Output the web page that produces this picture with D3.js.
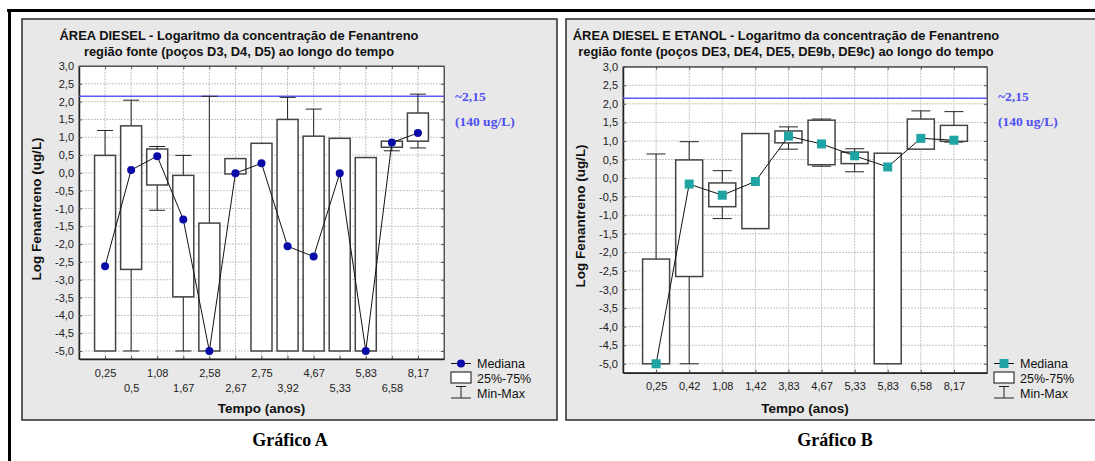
<!DOCTYPE html>
<html>
<head>
<meta charset="utf-8">
<script src="https://cdn.jsdelivr.net/npm/d3@7"></script>
<style>
  html, body { margin: 0; padding: 0; background: #fff; }
  svg { display: block; font-family: "Liberation Sans", Arial, sans-serif; }
</style>
</head>
<body>
<svg id="chart" width="1095" height="461"></svg>
<script>
// ---- Data: Gráfico A (área diesel) ----
const catsA = ["0,25", "0,5", "1,08", "1,67", "2,58", "2,67", "2,75", "3,92", "4,67", "5,33", "5,83", "6,58", "8,17"];
const minA  = [-5.0, -5.0, -1.05, -5.0, -5.0, -0.03, -5.0, -5.0, -5.0, -5.0, -5.0, 0.62, 0.70];
const q1A   = [-5.0, -2.71, -0.34, -3.48, -5.0, -0.03, -5.0, -5.0, -5.0, -5.0, -5.0, 0.72, 0.89];
const medA  = [-2.62, 0.08, 0.47, -1.31, -5.0, -0.01, 0.27, -2.06, -2.35, -0.01, -5.0, 0.85, 1.12];
const q3A   = [0.49, 1.32, 0.67, -0.07, -1.41, 0.40, 0.83, 1.50, 1.03, 0.97, 0.43, 0.89, 1.68];
const maxA  = [1.19, 2.04, 0.74, 0.49, 2.15, 0.40, 0.83, 2.12, 1.79, 0.97, 0.43, 0.89, 2.21];

// ---- Data: Gráfico B (área diesel e etanol) ----
const catsB = ["0,25", "0,42", "1,08", "1,42", "3,83", "4,67", "5,33", "5,83", "6,58", "8,17"];
const minB  = [-5.0, -5.0, -1.09, -1.36, 0.78, 0.32, 0.17, -5.0, 0.78, 0.97];
const q1B   = [-5.0, -2.65, -0.77, -1.36, 0.95, 0.36, 0.39, -5.0, 0.78, 0.99];
const medB  = [-5.0, -0.16, -0.46, -0.09, 1.13, 0.92, 0.60, 0.30, 1.07, 1.02];
const q3B   = [-2.18, 0.49, -0.13, 1.20, 1.27, 1.56, 0.70, 0.67, 1.59, 1.42];
const maxB  = [0.65, 0.98, 0.20, 1.20, 1.38, 1.59, 0.79, 0.67, 1.81, 1.79];

// Shared axis values and reference level
const yTicks = [3.0, 2.5, 2.0, 1.5, 1.0, 0.5, 0.0, -0.5, -1.0, -1.5, -2.0, -2.5, -3.0, -3.5, -4.0, -4.5, -5.0];
const refLevel = 2.15;
const refLabels = ["~2,15", "(140 ug/L)"];
const legendLabels = ["Mediana", "25%-75%", "Min-Max"];

const svg = d3.select("#chart");
const fmt = v => d3.format(".1f")(v).replace(".", ",").replace("−", "-");
const SERIF = "'Liberation Serif', 'Times New Roman', serif";

// Outer frame
svg.append("line").attr("x1", 7).attr("x2", 1095).attr("y1", 10.5).attr("y2", 10.5)
  .attr("stroke", "#000").attr("stroke-width", 3);
svg.append("line").attr("x1", 9.5).attr("x2", 9.5).attr("y1", 9).attr("y2", 461)
  .attr("stroke", "#000").attr("stroke-width", 3);

function drawPanel(cfg) {
  const g = svg.append("g");
  // panel background
  g.append("rect").attr("x", cfg.panel[0]).attr("y", cfg.panel[1])
    .attr("width", cfg.panel[2]).attr("height", cfg.panel[3])
    .attr("fill", "#e8e8e8").attr("stroke", "#2a2a2a").attr("stroke-width", 1.5);

  const x = d3.scalePoint().domain(cfg.cats).range([cfg.left, cfg.right]).padding(1);
  const y = d3.scaleLinear().domain(cfg.yDomain).range([cfg.bottom, cfg.top]);

  // plot area
  g.append("rect").attr("x", cfg.left).attr("y", cfg.top)
    .attr("width", cfg.right - cfg.left).attr("height", cfg.bottom - cfg.top)
    .attr("fill", "#fff");

  // dotted grid
  g.append("g").selectAll("line").data(yTicks).join("line")
    .attr("x1", cfg.left).attr("x2", cfg.right)
    .attr("y1", d => y(d)).attr("y2", d => y(d))
    .attr("stroke", "#c4c4c4").attr("stroke-width", 1).attr("stroke-dasharray", "2,1");
  g.append("g").selectAll("line").data(cfg.cats).join("line")
    .attr("x1", d => x(d)).attr("x2", d => x(d))
    .attr("y1", cfg.top).attr("y2", cfg.bottom)
    .attr("stroke", "#c4c4c4").attr("stroke-width", 1).attr("stroke-dasharray", "2,1");

  // plot frame
  g.append("rect").attr("x", cfg.left).attr("y", cfg.top)
    .attr("width", cfg.right - cfg.left).attr("height", cfg.bottom - cfg.top)
    .attr("fill", "none").attr("stroke", "#555").attr("stroke-width", 1);

  // axes
  const yAxis = g.append("g").attr("transform", `translate(${cfg.left},0)`)
    .call(d3.axisLeft(y).tickValues(yTicks).tickFormat(fmt).tickSizeInner(-3).tickSizeOuter(0).tickPadding(5));
  yAxis.attr("font-family", null);
  yAxis.select(".domain").attr("stroke", "#222").attr("stroke-width", 1.5);
  yAxis.selectAll(".tick line").attr("stroke", "#555");
  yAxis.selectAll("text").attr("font-size", 11).attr("fill", "#222");

  const yAxisR = g.append("g").attr("transform", `translate(${cfg.right},0)`)
    .call(d3.axisRight(y).tickValues(yTicks).tickFormat("").tickSizeInner(-3).tickSizeOuter(0));
  yAxisR.select(".domain").attr("stroke", "#555");
  yAxisR.selectAll(".tick line").attr("stroke", "#555");

  const xAxisT = g.append("g").attr("transform", `translate(0,${cfg.top})`)
    .call(d3.axisTop(x).tickFormat("").tickSizeInner(-3).tickSizeOuter(0));
  xAxisT.select(".domain").attr("stroke", "#555");
  xAxisT.selectAll(".tick line").attr("stroke", "#555");

  const xAxis = g.append("g").attr("transform", `translate(0,${cfg.bottom})`)
    .call(d3.axisBottom(x).tickSizeInner(-3).tickSizeOuter(0).tickPadding(10));
  xAxis.attr("font-family", null);
  xAxis.select(".domain").attr("stroke", "#222").attr("stroke-width", 1.5);
  xAxis.selectAll(".tick line").attr("stroke", "#555");
  xAxis.selectAll("text").attr("font-size", 11).attr("fill", "#222")
    .attr("dy", (d, i) => cfg.stagger && i % 2 === 1 ? "2.1em" : "0.71em");

  // reference level
  g.append("line").attr("x1", cfg.left).attr("x2", cfg.right)
    .attr("y1", y(refLevel)).attr("y2", y(refLevel))
    .attr("stroke", "#5a5af5").attr("stroke-width", 1.5);

  // boxes
  const idx = d3.range(cfg.cats.length);
  const bw = cfg.boxWidth, cw = cfg.capWidth;
  const wh = g.append("g").attr("stroke", "#222").attr("stroke-width", 1);
  idx.forEach(i => {
    const cx = x(cfg.cats[i]);
    if (cfg.max[i] > cfg.q3[i]) {
      wh.append("line").attr("x1", cx).attr("x2", cx).attr("y1", y(cfg.max[i])).attr("y2", y(cfg.q3[i]));
      wh.append("line").attr("x1", cx - cw / 2).attr("x2", cx + cw / 2).attr("y1", y(cfg.max[i])).attr("y2", y(cfg.max[i]));
    }
    if (cfg.min[i] < cfg.q1[i]) {
      wh.append("line").attr("x1", cx).attr("x2", cx).attr("y1", y(cfg.q1[i])).attr("y2", y(cfg.min[i]));
      wh.append("line").attr("x1", cx - cw / 2).attr("x2", cx + cw / 2).attr("y1", y(cfg.min[i])).attr("y2", y(cfg.min[i]));
    }
  });
  g.append("g").selectAll("rect").data(idx).join("rect")
    .attr("x", i => x(cfg.cats[i]) - bw / 2)
    .attr("y", i => y(cfg.q3[i]))
    .attr("width", bw)
    .attr("height", i => Math.max(1, y(cfg.q1[i]) - y(cfg.q3[i])))
    .attr("fill", "#fff").attr("stroke", "#444").attr("stroke-width", 1.5);

  // median line + markers
  const line = d3.line().x(i => x(cfg.cats[i])).y(i => y(cfg.med[i]));
  g.append("path").datum(idx).attr("d", line)
    .attr("fill", "none").attr("stroke", "#111").attr("stroke-width", 1);
  const mk = g.append("g").selectAll("g").data(idx).join("g")
    .attr("transform", i => `translate(${x(cfg.cats[i])},${y(cfg.med[i])})`);
  cfg.marker(mk);

  // reference label
  refLabels.forEach((t, k) => {
    g.append("text").attr("x", cfg.refX).attr("y", [101, 126][k])
      .style("font-family", SERIF)
      .attr("font-weight", "bold").attr("font-size", 13.5).attr("fill", "#5050f0").text(t);
  });

  // titles
  cfg.title.forEach((t, k) => {
    g.append("text").attr("x", cfg.titleX).attr("y", 40 + k * 15.5)
      .attr("text-anchor", "middle").attr("font-weight", "bold").attr("font-size", 12.9)
      .attr("fill", "#111").text(t);
  });

  // axis titles
  g.append("text").attr("x", (cfg.left + cfg.right) / 2).attr("y", 412.5)
    .attr("text-anchor", "middle").attr("font-weight", "bold").attr("font-size", 13.5)
    .attr("fill", "#111").text("Tempo (anos)");
  g.append("text")
    .attr("transform", `translate(${cfg.yTitleX},${cfg.yTitleY}) rotate(-90)`)
    .attr("text-anchor", "middle").attr("font-weight", "bold").attr("font-size", 13.5)
    .attr("fill", "#111").text("Log Fenantreno (ug/L)");

  // legend
  const lx = cfg.legendX;
  const lg = g.append("g");
  lg.append("line").attr("x1", lx).attr("x2", lx + 20).attr("y1", 363.5).attr("y2", 363.5)
    .attr("stroke", "#111").attr("stroke-width", 1);
  const lm = lg.append("g").attr("transform", `translate(${lx + 10},363.5)`);
  cfg.marker(lm);
  lg.append("rect").attr("x", lx).attr("y", 372).attr("width", 20).attr("height", 11)
    .attr("fill", "#fff").attr("stroke", "#333").attr("stroke-width", 1.2);
  lg.append("line").attr("x1", lx + 5).attr("x2", lx + 15).attr("y1", 386.5).attr("y2", 386.5).attr("stroke", "#222");
  lg.append("line").attr("x1", lx + 10).attr("x2", lx + 10).attr("y1", 386.5).attr("y2", 398).attr("stroke", "#222");
  lg.append("line").attr("x1", lx).attr("x2", lx + 20).attr("y1", 398).attr("y2", 398).attr("stroke", "#222");
  legendLabels.forEach((t, k) => {
    lg.append("text").attr("x", lx + 26).attr("y", 368 + k * 15)
      .attr("font-size", 12.5).attr("fill", "#111").text(t);
  });

  // caption
  svg.append("text").attr("x", cfg.captionX).attr("y", 446)
    .attr("text-anchor", "middle")
    .style("font-family", SERIF)
    .attr("font-weight", "bold").attr("font-size", 18).attr("fill", "#000").text(cfg.caption);
}

drawPanel({
  panel: [22, 19, 535, 401],
  left: 79, right: 444, top: 66, bottom: 359, yDomain: [-5.225, 3],
  cats: catsA, min: minA, q1: q1A, med: medA, q3: q3A, max: maxA,
  stagger: true, boxWidth: 21, capWidth: 16,
  marker: sel => sel.append("circle").attr("r", 4).attr("fill", "#0a0aa8"),
  refX: 455, titleX: 239, yTitleX: 41, yTitleY: 209, legendX: 451, captionX: 290,
  title: ["ÁREA DIESEL - Logaritmo da concentração de Fenantreno",
          "região fonte (poços D3, D4, D5) ao longo do tempo"],
  caption: "Gráfico A"
});

drawPanel({
  panel: [566, 19, 540, 401],
  left: 623, right: 987, top: 66.7, bottom: 372.7, yDomain: [-5.24, 3],
  cats: catsB, min: minB, q1: q1B, med: medB, q3: q3B, max: maxB,
  stagger: false, boxWidth: 27, capWidth: 19,
  marker: sel => sel.append("rect").attr("x", -4.5).attr("y", -4.5).attr("width", 9).attr("height", 9).attr("fill", "#1fa3a3"),
  refX: 998, titleX: 786, yTitleX: 585, yTitleY: 216, legendX: 994, captionX: 835,
  title: ["ÁREA DIESEL E ETANOL - Logaritmo da concentração de Fenantreno",
          "região fonte (poços DE3, DE4, DE5, DE9b, DE9c) ao longo do tempo"],
  caption: "Gráfico B"
});
</script>
</body>
</html>
